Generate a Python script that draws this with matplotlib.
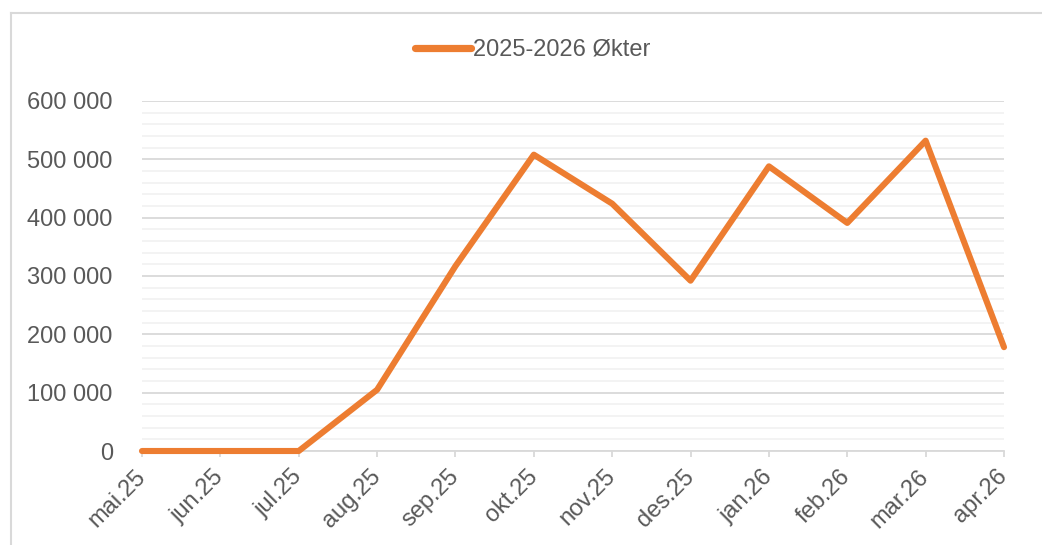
import matplotlib
matplotlib.use("Agg")
import matplotlib.pyplot as plt
from matplotlib.ticker import MultipleLocator, FuncFormatter
from matplotlib.lines import Line2D

months = ["mai.25", "jun.25", "jul.25", "aug.25", "sep.25", "okt.25",
          "nov.25", "des.25", "jan.26", "feb.26", "mar.26", "apr.26"]
okter = [0, 0, 0, 105000, 317000, 508000, 424000, 292000, 488000, 391000, 532000, 178000]
series_name = "2025-2026 Økter"

plt.rcParams['font.family'] = ['Liberation Sans', 'DejaVu Sans']
text_color = "#595959"
grid_major = "#d9d9d9"
grid_minor = "#f2f2f2"
line_color = "#ED7D31"
fs = 17

fig = plt.figure(figsize=(10.42, 5.45), dpi=100)
ax = fig.add_axes([142/1042, 94/545, (1004-142)/1042, 350/545])

x = list(range(len(months)))
ax.plot(x, okter, color=line_color, lw=4.4, solid_joinstyle='round',
        solid_capstyle='round', label=series_name, zorder=3, clip_on=False)

ax.set_xlim(0, len(months) - 1)
ax.set_ylim(0, 600000)
ax.yaxis.set_major_locator(MultipleLocator(100000))
ax.yaxis.set_minor_locator(MultipleLocator(20000))
ax.yaxis.set_major_formatter(FuncFormatter(lambda v, p: f"{int(v):,}".replace(",", " ")))
ax.grid(True, which='major', axis='y', color=grid_major, lw=1.3, zorder=1)
ax.grid(True, which='minor', axis='y', color=grid_minor, lw=1.3, zorder=0)
ax.set_axisbelow(True)

for s in ['top', 'right', 'left']:
    ax.spines[s].set_visible(False)
ax.spines['bottom'].set_color(grid_major)
ax.spines['bottom'].set_linewidth(1.3)

ax.set_xticks(x)
ax.set_xticklabels(months, rotation=45, ha='right', va='center', rotation_mode='anchor')
ax.tick_params(axis='x', length=4, width=1.3, color=grid_major, labelcolor=text_color,
               labelsize=fs, pad=12)
ax.tick_params(axis='y', which='both', length=0, labelsize=fs, labelcolor=text_color, pad=21)

handle = Line2D([0], [0], color=line_color, lw=5.2, solid_capstyle='round')
fig.legend([handle], [series_name], loc='center', bbox_to_anchor=(533/1042, 1 - 50/545),
           frameon=False, fontsize=fs, handlelength=2.35, handletextpad=0.1,
           labelcolor=text_color)

# chart border (top and left visible in crop)
fig.add_artist(Line2D([11/1042, 1], [1 - 12.5/545, 1 - 12.5/545], color=grid_major, lw=1.5,
                      transform=fig.transFigure))
fig.add_artist(Line2D([11/1042, 11/1042], [0, 1 - 12.5/545], color=grid_major, lw=1.5,
                      transform=fig.transFigure))

fig.savefig("out.png", dpi=100, facecolor="white")
